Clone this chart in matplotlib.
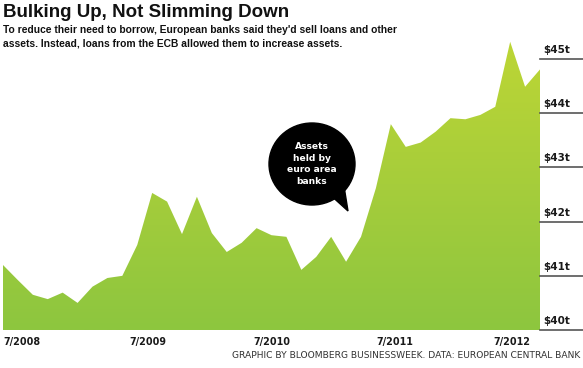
import matplotlib
matplotlib.use("Agg")
import matplotlib.pyplot as plt
import numpy as np
from matplotlib.colors import LinearSegmentedColormap
from matplotlib.patches import Ellipse, Polygon

# ---- data ----
assets = [41.20, 40.92, 40.65, 40.57, 40.69, 40.50, 40.80, 40.96, 41.00, 41.57,
          42.53, 42.37, 41.77, 42.46, 41.79, 41.44, 41.61, 41.88, 41.75, 41.72,
          41.11, 41.35, 41.72, 41.26, 41.72, 42.62, 43.80, 43.38, 43.46, 43.66,
          43.91, 43.89, 43.97, 44.12, 45.32, 44.49, 44.81]
x_tick_pos = [0, 8.5, 16.8, 25.0, 32.9]
x_tick_labels = ["7/2008", "7/2009", "7/2010", "7/2011", "7/2012"]
y_ticks = [40, 41, 42, 43, 44, 45]
y_tick_labels = ["$40t", "$41t", "$42t", "$43t", "$44t", "$45t"]

FONT = "Liberation Sans"
WIDE = "DejaVu Sans"
W, H = 583, 368
fig = plt.figure(figsize=(W / 100, H / 100), dpi=100)
fig.patch.set_facecolor("white")

ax_l, ax_r, ax_b, ax_t = 3, 540, 330, 38
ax = fig.add_axes([ax_l / W, 1 - ax_b / H, (ax_r - ax_l) / W, (ax_b - ax_t) / H])
x = np.arange(len(assets))
ymin, ymax = 40, 45.39
ax.set_xlim(0, len(assets) - 1)
ax.set_ylim(ymin, ymax)
ax.axis("off")

# gradient fill clipped by area
poly = ax.fill_between(x, ymin, assets, color="none", lw=0)
cmap = LinearSegmentedColormap.from_list("g", ["#8dc63f", "#a6cd3b", "#bdd635"])
grad = np.linspace(0, 1, 256).reshape(-1, 1)
im = ax.imshow(grad, extent=[0, len(assets) - 1, ymin, ymax], origin="lower",
               aspect="auto", cmap=cmap, zorder=1)
path = poly.get_paths()[0]
im.set_clip_path(path, transform=ax.transData)

# right-hand y tick lines and labels
for v, lab in zip(y_ticks, y_tick_labels):
    ypix = ax.transData.transform((0, v))[1]
    yf = ypix / H
    fig.add_artist(plt.Line2D([ax_r / W, 1.0], [yf, yf], color="#555555", lw=1.2))
    fig.text(543 / W, yf + 4 / H, lab, fontsize=7.5, fontweight="bold",
             family=WIDE, color="#1a1a1a", ha="left", va="bottom")

# x tick labels
for p, lab in zip(x_tick_pos, x_tick_labels):
    ax.text(p, ymin - 0.12, lab, fontsize=6.9, fontweight="bold", family=WIDE,
            color="#1a1a1a", ha="left", va="top", clip_on=False)

# title and subtitle
fig.text(3 / W, 1 - 4 / H, "Bulking Up, Not Slimming Down", fontsize=13.5,
         fontweight="bold", family=FONT, color="#111111", ha="left", va="top")
fig.text(3 / W, 1 - 25 / H,
         "To reduce their need to borrow, European banks said they'd sell loans and other\n"
         "assets. Instead, loans from the ECB allowed them to increase assets.",
         fontsize=7.4, fontweight="bold", family=FONT, color="#111111",
         ha="left", va="top", linespacing=1.4)

# credit
fig.text(580 / W, 1 - 355 / H,
         "GRAPHIC BY BLOOMBERG BUSINESSWEEK. DATA: EUROPEAN CENTRAL BANK",
         fontsize=6.6, family=WIDE, color="#333333", ha="right", va="center")

# speech bubble
cx, cy = (312 - ax_l) / (ax_r - ax_l), (ax_b - 164) / (ax_b - ax_t)
bw, bh = 86 / (ax_r - ax_l), 82 / (ax_b - ax_t)
ax.add_patch(Ellipse((cx, cy), bw, bh, transform=ax.transAxes, color="black", zorder=5))
tail = [((327 - ax_l) / 537, (ax_b - 192) / 292), ((343 - ax_l) / 537, (ax_b - 180) / 292),
        ((348 - ax_l) / 537, (ax_b - 211) / 292)]
ax.add_patch(Polygon(tail, closed=True, transform=ax.transAxes, color="black", zorder=5))
ax.text(cx, cy, "Assets\nheld by\neuro area\nbanks", transform=ax.transAxes,
        fontsize=6.6, fontweight="bold", family=WIDE, color="white", ha="center",
        va="center", linespacing=1.35, zorder=6)

fig.savefig("out.png", dpi=100, facecolor="white")
